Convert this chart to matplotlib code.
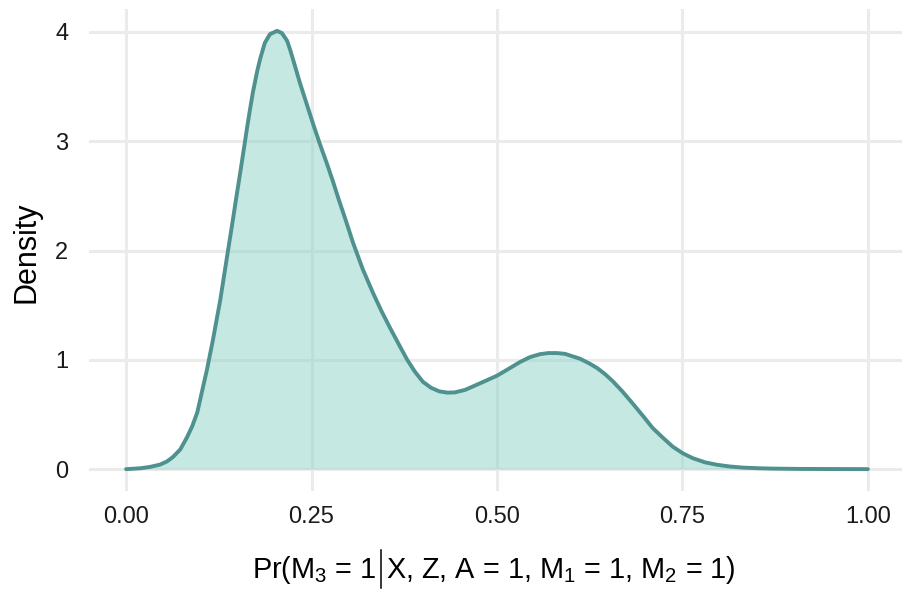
import matplotlib
matplotlib.use("Agg")
import matplotlib.pyplot as plt
from matplotlib.lines import Line2D

plt.rcParams['font.family'] = ['Liberation Sans', 'DejaVu Sans']
plt.rcParams['mathtext.fontset'] = 'custom'
plt.rcParams['mathtext.rm'] = 'Liberation Sans'
plt.rcParams['mathtext.it'] = 'Liberation Sans'
plt.rcParams['mathtext.bf'] = 'Liberation Sans:bold'

# density curve
prob = [0.000, 0.019, 0.032, 0.046, 0.055, 0.063, 0.073, 0.082, 0.089, 0.096,
        0.102, 0.109, 0.117, 0.127, 0.136, 0.143, 0.148, 0.154, 0.159, 0.163,
        0.167, 0.171, 0.177, 0.181, 0.187, 0.194, 0.2035, 0.210, 0.217, 0.221,
        0.225, 0.2345, 0.244, 0.253, 0.2615, 0.271, 0.279, 0.287, 0.295, 0.306,
        0.319, 0.333, 0.344, 0.356, 0.367, 0.379, 0.3895, 0.400, 0.411, 0.422,
        0.433, 0.443, 0.457, 0.477, 0.500, 0.5175, 0.531, 0.5445, 0.558, 0.569,
        0.581, 0.5915, 0.612, 0.625, 0.635, 0.6455, 0.656, 0.6685, 0.683, 0.697,
        0.710, 0.724, 0.737, 0.7505, 0.764, 0.780, 0.7965, 0.814, 0.8315, 0.854,
        0.872, 0.908, 0.949, 1.000]
density = [0.000, 0.008, 0.020, 0.042, 0.070, 0.110, 0.180, 0.290, 0.390, 0.520,
           0.700, 0.910, 1.180, 1.550, 1.940, 2.240, 2.460, 2.720, 2.940, 3.120,
           3.290, 3.450, 3.650, 3.760, 3.900, 3.980, 4.010, 3.990, 3.920, 3.840,
           3.750, 3.530, 3.330, 3.140, 2.970, 2.790, 2.630, 2.460, 2.300, 2.070,
           1.830, 1.610, 1.450, 1.290, 1.150, 1.000, 0.890, 0.800, 0.745, 0.712,
           0.700, 0.702, 0.725, 0.785, 0.855, 0.925, 0.980, 1.025, 1.052, 1.062,
           1.062, 1.055, 1.010, 0.965, 0.925, 0.870, 0.805, 0.715, 0.600, 0.485,
           0.375, 0.285, 0.205, 0.145, 0.100, 0.063, 0.040, 0.024, 0.014, 0.008,
           0.005, 0.002, 0.001, 0.000]

x_ticks = [0.0, 0.25, 0.5, 0.75, 1.0]
x_ticklabels = ["0.00", "0.25", "0.50", "0.75", "1.00"]
y_ticks = [0, 1, 2, 3, 4]

W, H = 902, 593
fig = plt.figure(figsize=(W / 100, H / 100), dpi=100)
ax = fig.add_axes([89 / W, 1 - 491 / H, 816 / W, 482 / H])

ax.fill_between(prob, density, 0, color="#8DD3C7", alpha=0.5, lw=0, zorder=2)
ax.plot(prob, density, color="#4E918E", lw=2.8, zorder=3,
        solid_capstyle="round", solid_joinstyle="round")

ax.set_xlim(-0.05, 1.05)
ax.set_ylim(-0.2, 4.21)
ax.set_xticks(x_ticks)
ax.set_xticklabels(x_ticklabels)
ax.set_yticks(y_ticks)

ax.grid(True, color="#EBEBEB", lw=2.2, zorder=0)
ax.set_axisbelow(True)
for s in ax.spines.values():
    s.set_visible(False)
ax.tick_params(length=0, labelsize=17, labelcolor="#1A1A1A")
ax.tick_params(axis="y", pad=15)
ax.tick_params(axis="x", pad=11)

fig.text(27 / W, 1 - 252 / H, "Density", rotation=90, fontsize=22,
         ha="center", va="center")

# x label: Pr( M3 = 1 | X, Z, A = 1, M1 = 1, M2 = 1 ) with a tall bar
fig.canvas.draw()
rend = fig.canvas.get_renderer()
base_y = 1 - 578 / H
left_txt = "Pr(M$_3$ = 1"
right_txt = "X, Z, A = 1, M$_1$ = 1, M$_2$ = 1)"
t1 = fig.text(0, base_y, left_txt, fontsize=20.8, va="baseline", ha="left")
t2 = fig.text(0, base_y, right_txt, fontsize=20.8, va="baseline", ha="left")
w1 = t1.get_window_extent(rend).width
w2 = t2.get_window_extent(rend).width
gap = 5
total = w1 + 2 * gap + w2
x0 = 494 - total / 2
t1.set_x(x0 / W)
bar_x = x0 + w1 + gap
t2.set_x((bar_x + gap) / W)
fig.add_artist(Line2D([bar_x / W, bar_x / W], [1 - 550 / H, 1 - 588 / H],
                      color="black", lw=1.1, transform=fig.transFigure))

fig.savefig("out.png", dpi=100)
